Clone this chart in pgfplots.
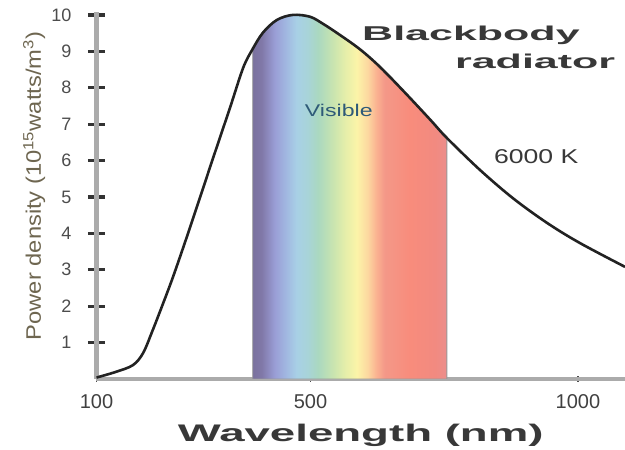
\documentclass[border=0pt]{standalone}
\usepackage{fontspec}
\setmainfont{Liberation Sans}
\usepackage{graphicx}
\usepackage{pgfplots}
\pgfplotsset{compat=1.18}

\definecolor{v1}{HTML}{7A719E}
\definecolor{v2}{HTML}{8078A8}
\definecolor{v3}{HTML}{9A9ED6}
\definecolor{v4}{HTML}{A0B4E0}
\definecolor{v5}{HTML}{A8D0E6}
\definecolor{v6}{HTML}{A8D4D8}
\definecolor{v7}{HTML}{AAD8C0}
\definecolor{v8}{HTML}{C8E4B0}
\definecolor{v9}{HTML}{E4EEAA}
\definecolor{v10}{HTML}{FCF4A8}
\definecolor{v11}{HTML}{FCD8A0}
\definecolor{v12}{HTML}{FAB090}
\definecolor{v13}{HTML}{F49888}
\definecolor{v14}{HTML}{F88C7C}
\definecolor{v15}{HTML}{F28A80}
\definecolor{v16}{HTML}{EC8E8C}
\definecolor{curvecol}{HTML}{222222}
\definecolor{labcol}{HTML}{6E6650}
\definecolor{viscol}{HTML}{2E5A78}
\definecolor{axcol}{HTML}{ABABAB}

\pgfdeclarehorizontalshading{visible}{100bp}{color(0bp)=(v1); color(25bp)=(v1); color(27.3bp)=(v2); color(30.7bp)=(v3); color(33.2bp)=(v4); color(36.3bp)=(v5); color(39.2bp)=(v6); color(41.8bp)=(v7); color(45.6bp)=(v8); color(48.7bp)=(v9); color(51.8bp)=(v10); color(54.6bp)=(v11); color(57bp)=(v12); color(59bp)=(v13); color(65.5bp)=(v14); color(71.9bp)=(v15); color(75bp)=(v16); color(100bp)=(v16)}

\begin{document}
\begin{tikzpicture}
\begin{axis}[
  scale only axis, width=528.5pt, height=367pt,
  at={(0,0)}, anchor=south west,
  xmin=100, xmax=1088, ymin=0, ymax=10.08,
  separate axis lines,
  axis x line*=bottom, axis y line*=left,
  every outer x axis line/.append style={line width=4.5pt, draw=axcol},
  every outer y axis line/.append style={line width=4.5pt, draw=axcol},
  x axis line style={line width=4.5pt, draw=axcol},
  y axis line style={line width=4.5pt, draw=axcol},
  xtick={100,500,1000}, ytick={1,2,3,4,5,6,7,8,9,10},
  tick align=center,
  major tick length=17pt,
  tick style={line width=3.2pt, draw=black!80},
  xtick style={line width=1.8pt, draw=black!70, /pgfplots/major tick length=6pt},
  /pgf/number format/assume math mode=true,
  /pgf/number format/1000 sep={},
  yticklabel style={font=\fontsize{18}{18}\selectfont, text=black!70, anchor=east, inner sep=0pt, xshift=-16.5pt},
  xticklabel style={font=\fontsize{20}{20}\selectfont, text=black!75, anchor=north, inner sep=0pt, yshift=-6.5pt},
  xlabel={\scalebox{1.9}[1]{\bfseries Wavelength (nm)}},
  xlabel style={at={(axis description cs:0.5,-0.169)}, anchor=base, font=\fontsize{24}{24}\selectfont, text=black!78, inner sep=0pt},
  ylabel={\scalebox{1.13}[1]{Power density (10\textsuperscript{15}watts/m\textsuperscript{3})}},
  ylabel style={at={(axis description cs:-0.118,0.526)}, anchor=center, font=\fontsize{21}{21}\selectfont, text=labcol, inner sep=0pt},
]
% visible band under the curve
\addplot[shade, shading=visible, draw=black!40, line width=0.8pt, smooth, tension=0.55] table {
x y
392 9.05
411 9.51
437 9.86
467 10.0
499 9.95
523 9.76
555 9.45
593 9.05
630 8.57
677 7.86
724 7.12
755 6.62
} \closedcycle;
% 6000 K blackbody curve
\addplot[curvecol, line width=2.6pt, smooth, tension=0.55] table {
x y
100 0.04
135 0.19
168 0.38
187 0.71
204 1.30
222 1.98
241 2.72
260 3.52
278 4.30
297 5.14
318 6.07
350 7.47
374 8.54
391 9.04
411 9.51
437 9.86
467 10.0
499 9.95
523 9.76
555 9.45
593 9.05
630 8.57
677 7.86
724 7.12
755 6.62
817 5.74
879 4.96
942 4.29
1003 3.74
1088 3.08
};
\node[anchor=base, font=\fontsize{20}{20}\selectfont\bfseries, text=black!78, inner sep=0pt] at (axis cs:800,9.31) {\scalebox{2.15}[1]{Blackbody}};
\node[anchor=base, font=\fontsize{20}{20}\selectfont\bfseries, text=black!78, inner sep=0pt] at (axis cs:920,8.54) {\scalebox{2.15}[1]{radiator}};
\node[anchor=base, font=\fontsize{17}{17}\selectfont, text=viscol, inner sep=0pt] at (axis cs:553,7.20) {\scalebox{1.36}[1]{Visible}};
\node[anchor=base, font=\fontsize{20}{20}\selectfont, text=black!78, inner sep=0pt] at (axis cs:922,5.91) {\scalebox{1.33}[1]{6000 K}};
\end{axis}
\pgfresetboundingbox
\path[use as bounding box] (-96.5pt,-71pt) rectangle (528.5pt,379pt);
\end{tikzpicture}
\end{document}
